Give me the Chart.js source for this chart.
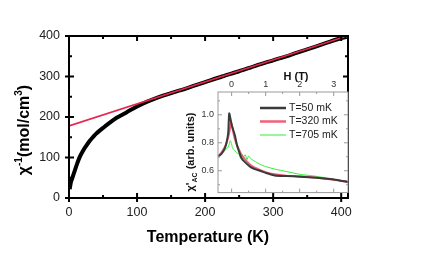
<!DOCTYPE html>
<html>
<head>
<meta charset="utf-8">
<script src="https://cdn.jsdelivr.net/npm/chart.js@4.4.0/dist/chart.umd.min.js"></script>
<style>
  html, body { margin: 0; padding: 0; background: #fff; }
  #wrap { position: relative; width: 436px; height: 273px; }
  #main { position: absolute; left: 0; top: 0; }
  #inset { position: absolute; left: 180px; top: 66px; }
</style>
</head>
<body>
<div id="wrap">
  <canvas id="main" width="436" height="273"></canvas>
  <canvas id="inset" width="172" height="136"></canvas>
</div>
<script>
// main panel: inverse susceptibility vs temperature
const temps  = [1, 2, 3, 5, 7, 9, 12, 16, 20, 25, 30, 35, 40, 50, 60, 70, 85, 100, 115, 130, 150, 175, 200, 225, 250, 275, 300, 325, 350, 375, 400, 408]
const invChi = [22, 32, 40, 50, 60, 70, 85, 102, 115, 128, 140, 150, 159, 173, 186, 198, 212, 226, 238, 248, 259, 272, 286, 300, 313, 327, 340, 353, 367, 381, 395, 398]
const fitT   = [0, 405]
const fitChi = [178, 398]
const tempTicks  = [0, 100, 200, 300, 400]
const tempMinor  = [50, 150, 250, 350]
const chiTicks   = [0, 100, 200, 300, 400]
const chiMinor   = [50, 150, 250, 350]

// inset: ac susceptibility vs field
const fieldTicks = [0, 1, 2, 3]
const fieldMinor = [0.5, 1.5, 2.5]
const acTicks    = [0.6, 0.8, 1.0]
const acMinor    = [0.5, 0.7, 0.9, 1.1]
const seriesLabels = ['T=50 mK', 'T=320 mK', 'T=705 mK']
const h50  = [-0.4, -0.3, -0.2, -0.15, -0.1, -0.07, 0, 0.05, 0.1, 0.15, 0.2, 0.29, 0.4, 0.54, 0.7, 0.83, 1.0, 1.27, 1.6, 2.0, 2.5, 3.0, 3.42]
const ac50 = [0.70, 0.72, 0.76, 0.80, 0.87, 1.01, 0.93, 0.89, 0.85, 0.79, 0.75, 0.69, 0.66, 0.63, 0.61, 0.60, 0.585, 0.566, 0.562, 0.558, 0.55, 0.538, 0.52]
const h320  = [-0.4, -0.3, -0.2, -0.15, -0.1, -0.05, -0.02, 0.02, 0.08, 0.15, 0.2, 0.3, 0.4, 0.54, 0.7, 0.85, 1.0, 1.27, 1.6, 2.0, 2.5, 3.0, 3.42]
const ac320 = [0.70, 0.73, 0.77, 0.80, 0.84, 0.90, 0.95, 0.91, 0.84, 0.79, 0.76, 0.71, 0.68, 0.645, 0.62, 0.605, 0.59, 0.575, 0.565, 0.56, 0.55, 0.536, 0.52]
const h705  = [-0.4, -0.3, -0.2, -0.1, -0.04, 0, 0.03, 0.08, 0.12, 0.17, 0.22, 0.26, 0.3, 0.35, 0.4, 0.45, 0.5, 0.55, 0.6, 0.7, 0.85, 1.0, 1.27, 1.6, 2.0, 2.5, 3.0, 3.42]
const ac705 = [0.70, 0.72, 0.745, 0.77, 0.815, 0.79, 0.76, 0.75, 0.735, 0.725, 0.72, 0.69, 0.72, 0.70, 0.715, 0.68, 0.705, 0.69, 0.68, 0.665, 0.645, 0.63, 0.612, 0.595, 0.575, 0.56, 0.54, 0.522]

const FONT = "'Liberation Sans', Arial, sans-serif"
const pts = (xs, ys) => xs.map((x, i) => ({ x: x, y: ys[i] }))
const fixTicks = arr => scale => { scale.ticks = arr.map(v => ({ value: v })) }

// draw a string made of pieces (normal / super / sub), centred at 0,0
function drawPieces(ctx, pieces, size, subSize) {
  let total = 0
  pieces.forEach(p => {
    ctx.font = 'bold ' + (p.s ? subSize : size) + 'px ' + FONT
    p.w = ctx.measureText(p.t).width
    total += p.w
  })
  let x = -total / 2
  ctx.textBaseline = 'middle'
  ctx.textAlign = 'left'
  pieces.forEach(p => {
    ctx.font = 'bold ' + (p.s ? subSize : size) + 'px ' + FONT
    ctx.fillText(p.t, x, p.s ? p.s : 0)
    x += p.w
  })
}

function frameTicks(ctx, area, xs, ys, o) {
  const { left, right, top, bottom } = area
  ctx.save()
  ctx.strokeStyle = o.color
  ctx.lineWidth = o.width
  ctx.beginPath()
  o.xMajor.forEach(v => {
    const p = xs.getPixelForValue(v)
    ctx.moveTo(p, bottom + o.out); ctx.lineTo(p, bottom - o.major)
    ctx.moveTo(p, top); ctx.lineTo(p, top + o.major)
  })
  o.xMinor.forEach(v => {
    const p = xs.getPixelForValue(v)
    ctx.moveTo(p, bottom); ctx.lineTo(p, bottom - o.minor)
    ctx.moveTo(p, top); ctx.lineTo(p, top + o.minor)
  })
  o.yMajor.forEach(v => {
    const p = ys.getPixelForValue(v)
    ctx.moveTo(left - o.out, p); ctx.lineTo(left + o.major, p)
    ctx.moveTo(right, p); ctx.lineTo(right - o.major, p)
  })
  o.yMinor.forEach(v => {
    const p = ys.getPixelForValue(v)
    ctx.moveTo(left, p); ctx.lineTo(left + o.minor, p)
    ctx.moveTo(right, p); ctx.lineTo(right - o.minor, p)
  })
  ctx.stroke()
  ctx.strokeRect(left, top, right - left, bottom - top)
  ctx.restore()
}

new Chart(document.getElementById('main'), {
  type: 'line',
  data: {
    datasets: [
      { data: pts(fitT, fitChi), borderColor: '#e8254f', borderWidth: 1.6, pointRadius: 0, order: 0 },
      { data: pts(temps, invChi), borderColor: '#000', borderWidth: 4, pointRadius: 0, tension: 0.3, order: 1 }
    ]
  },
  options: {
    responsive: false,
    animation: false,
    layout: { padding: { top: 36, right: 88, bottom: 0, left: 0 } },
    plugins: { legend: { display: false }, tooltip: { enabled: false } },
    scales: {
      x: {
        type: 'linear', min: 0, max: 410,
        afterBuildTicks: fixTicks(tempTicks),
        afterFit: s => { s.height = 75 },
        grid: { display: false, drawTicks: false },
        border: { display: false },
        ticks: { color: '#222', font: { family: FONT, size: 12.5 }, padding: 7 }
      },
      y: {
        type: 'linear', min: 0, max: 400,
        afterBuildTicks: fixTicks(chiTicks),
        afterFit: s => { s.width = 69 },
        grid: { display: false, drawTicks: false },
        border: { display: false },
        ticks: { color: '#222', font: { family: FONT, size: 12.5 }, padding: 9 }
      }
    }
  },
  plugins: [{
    id: 'mainDecor',
    afterDraw(chart) {
      const ctx = chart.ctx
      frameTicks(ctx, chart.chartArea, chart.scales.x, chart.scales.y, {
        color: '#000', width: 2, major: 5, minor: 3, out: 4,
        xMajor: tempTicks, xMinor: tempMinor, yMajor: chiTicks, yMinor: chiMinor
      })
      ctx.save()
      ctx.fillStyle = '#000'
      ctx.font = 'bold 16px ' + FONT
      ctx.textAlign = 'center'
      ctx.textBaseline = 'middle'
      ctx.fillText('Temperature (K)', 208, 238)
      ctx.translate(25, 130)
      ctx.rotate(-Math.PI / 2)
      drawPieces(ctx, [
        { t: 'χ' }, { t: '-1', s: -6 }, { t: '(mol/cm' }, { t: '3', s: -6 }, { t: ')' }
      ], 16, 10)
      ctx.restore()
    }
  }]
})

const insetColors = ['#3a3a3a', '#f0607a', '#33ee33']
const insetWidths = [2, 2, 1]

new Chart(document.getElementById('inset'), {
  type: 'line',
  data: {
    datasets: [
      { label: seriesLabels[0], data: pts(h50, ac50) },
      { label: seriesLabels[1], data: pts(h320, ac320) },
      { label: seriesLabels[2], data: pts(h705, ac705) }
    ].map((d, i) => Object.assign(d, {
      borderColor: insetColors[i], borderWidth: insetWidths[i], pointRadius: 0, tension: 0.2, order: i
    }))
  },
  options: {
    responsive: false,
    animation: false,
    layout: { padding: { top: 0, right: 4, bottom: 5, left: 0 } },
    plugins: { legend: { display: false }, tooltip: { enabled: false } },
    scales: {
      x: {
        type: 'linear', position: 'top', min: -0.4, max: 3.42,
        afterBuildTicks: fixTicks(fieldTicks),
        afterFit: s => { s.height = 26 },
        grid: { display: false, drawTicks: false },
        border: { display: false },
        ticks: { color: '#333', font: { family: FONT, size: 9 }, padding: 2 }
      },
      y: {
        type: 'linear', min: 0.444, max: 1.163,
        afterBuildTicks: fixTicks(acTicks),
        afterFit: s => { s.width = 38 },
        grid: { display: false, drawTicks: false },
        border: { display: false },
        ticks: { color: '#333', font: { family: FONT, size: 9 }, padding: 4, callback: v => v.toFixed(1) }
      }
    }
  },
  plugins: [{
    id: 'insetDecor',
    beforeDatasetsDraw(chart) {
      const a = chart.chartArea
      chart.ctx.save()
      chart.ctx.fillStyle = '#fff'
      chart.ctx.fillRect(a.left, a.top, a.right - a.left, a.bottom - a.top)
      chart.ctx.restore()
    },
    afterDraw(chart) {
      const ctx = chart.ctx
      frameTicks(ctx, chart.chartArea, chart.scales.x, chart.scales.y, {
        color: '#999', width: 1, major: 4, minor: 2, out: 0,
        xMajor: fieldTicks, xMinor: fieldMinor, yMajor: acTicks, yMinor: acMinor
      })
      ctx.save()
      // legend
      chart.data.datasets.forEach((d, i) => {
        const y = 42 + i * 13.5
        ctx.strokeStyle = d.borderColor
        ctx.lineWidth = i === 2 ? 1 : 2.5
        ctx.beginPath(); ctx.moveTo(80, y); ctx.lineTo(106, y); ctx.stroke()
        ctx.fillStyle = '#222'
        ctx.font = '10.5px ' + FONT
        ctx.textAlign = 'left'
        ctx.textBaseline = 'middle'
        ctx.fillText(d.label, 109, y)
      })
      ctx.fillStyle = '#111'
      ctx.font = 'bold 11px ' + FONT
      ctx.textAlign = 'center'
      ctx.textBaseline = 'middle'
      ctx.fillText('H (T)', 116, 11)
      ctx.translate(11, 86)
      ctx.rotate(-Math.PI / 2)
      drawPieces(ctx, [
        { t: "χ'" }, { t: 'AC', s: 4 }, { t: ' (arb. units)' }
      ], 11, 7)
      ctx.restore()
    }
  }]
})
</script>
</body>
</html>
